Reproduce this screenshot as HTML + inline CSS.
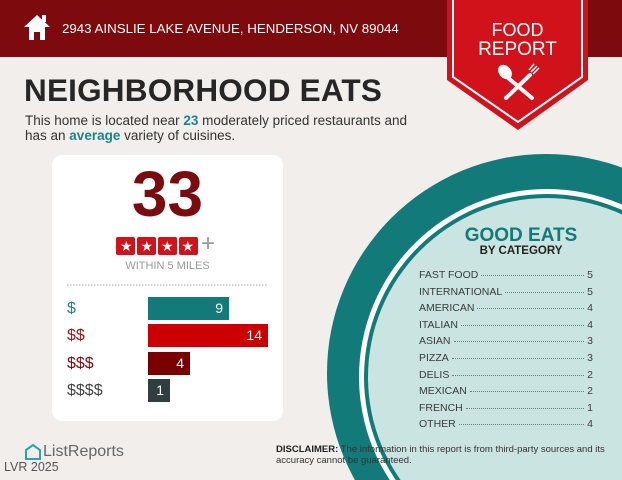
<!DOCTYPE html>
<html><head><meta charset="utf-8"><style>
*{margin:0;padding:0;box-sizing:border-box}
html,body{width:622px;height:480px;overflow:hidden}
body{background:#f1eeeb;font-family:"Liberation Sans",sans-serif;position:relative}
.a{position:absolute;white-space:nowrap}
.row{position:absolute;left:419px;width:174px;font-size:10.5px;color:#3a3a3a;display:flex;align-items:baseline}
.row .d{flex:1;border-bottom:1px dotted #777;margin:0 3px;transform:translateY(-2px)}
.bar{position:absolute;left:148px;height:23px;color:#fff;font-size:14px;text-align:right;padding-right:6px;line-height:23px}
.lbl{position:absolute;left:67px;font-size:16px;line-height:23px}
</style></head><body>
<svg class="a" style="left:0;top:0" width="622" height="480">
<rect x="0" y="0" width="622" height="57" fill="#7d0a0c"/>
<circle cx="546" cy="373" r="219" fill="#137a7a"/>
<circle cx="547" cy="377" r="188" fill="#ffffff"/>
<circle cx="547" cy="377" r="183" fill="#137a7a"/>
<circle cx="547" cy="377" r="179" fill="#c9e4e1"/>
<polygon points="447,0 588,0 588,80 518,130 447,80" fill="#d2121b"/>
<polyline points="453,0 453,77 518,122 582,77 582,0" fill="none" stroke="#fff" stroke-width="2"/>
<g stroke="#fff" stroke-width="4" stroke-linecap="round">
<line x1="507" y1="77" x2="532" y2="98"/><line x1="530" y1="75" x2="506" y2="98"/>
</g>
<ellipse cx="505" cy="72" rx="6" ry="8" fill="#fff" transform="rotate(-40 505 72)"/>
<g stroke="#fff" stroke-width="1.5"><line x1="529" y1="70" x2="534" y2="64"/><line x1="531" y1="72" x2="537" y2="66"/><line x1="533" y1="74" x2="539" y2="68"/></g>
<path d="M24 27 L37 15 L50 27 L45 27 L45 40 L40 40 L40 32 L34 32 L34 40 L29 40 L29 27Z" fill="#fff"/>
<rect x="42" y="15" width="4" height="7" fill="#fff"/>
<rect x="52" y="155" width="231" height="266" rx="10" fill="#fff"/>
<line x1="67" y1="285" x2="268" y2="285" stroke="#aaa" stroke-dasharray="1.5,1.5"/>
<g fill="#d2121b"><rect x="116" y="237" width="19" height="18" rx="2"/><rect x="137" y="237" width="19" height="18" rx="2"/><rect x="158" y="237" width="19" height="18" rx="2"/><rect x="179" y="237" width="19" height="18" rx="2"/></g>
<path d="M26 450 l7 -5 l7 5 v9 h-14z" fill="none" stroke="#2aa6a6" stroke-width="2"/>
</svg>
<div class="a" style="left:62px;top:21px;color:#fff;font-size:13.3px">2943 AINSLIE LAKE AVENUE, HENDERSON, NV 89044</div>
<div class="a" style="left:447px;width:141px;text-align:center;top:21px;color:#fff;font-size:18px;line-height:18.5px">FOOD<br><b style="font-weight:normal;font-size:19px">REPORT</b></div>
<div class="a" style="left:24px;top:72px;color:#262626;font-size:31.5px;font-weight:bold;letter-spacing:0.2px">NEIGHBORHOOD EATS</div>
<div class="a" style="left:25px;top:114px;color:#333;font-size:13.5px;line-height:14.5px">This home is located near <b style="color:#1a8585">23</b> moderately priced restaurants and<br>has an <b style="color:#1a8585">average</b> variety of cuisines.</div>
<div class="a" style="left:52px;width:231px;text-align:center;top:162px;color:#7a0b0e;font-size:64px;font-weight:bold;line-height:64px">33</div>
<div class="a" style="left:116px;top:236px;width:82px;display:flex;justify-content:space-around;color:#fff;font-size:14px;line-height:20px"><span>★</span><span>★</span><span>★</span><span>★</span></div>
<div class="a" style="left:201px;top:230px;color:#999;font-size:24px">+</div>
<div class="a" style="left:52px;width:231px;text-align:center;top:260px;color:#999;font-size:11px">WITHIN 5 MILES</div>
<div class="lbl" style="top:297px;color:#1a8585">$</div>
<div class="lbl" style="top:324px;color:#a0141a">$$</div>
<div class="lbl" style="top:352px;color:#7a0b0e">$$$</div>
<div class="lbl" style="top:379px;color:#444">$$$$</div>
<div class="bar" style="top:297px;width:81px;background:#137a7a">9</div>
<div class="bar" style="top:324px;width:120px;background:#cc0000">14</div>
<div class="bar" style="top:352px;width:42px;background:#7a0000">4</div>
<div class="bar" style="top:379px;width:22px;background:#2f3f40">1</div>
<div class="a" style="left:431px;width:180px;text-align:center;top:225px;color:#137a7a;font-size:19px;font-weight:bold">GOOD EATS</div>
<div class="a" style="left:431px;width:180px;text-align:center;top:245px;color:#222;font-size:11.5px;font-weight:bold">BY CATEGORY</div>
<div class="row" style="top:269px"><span>FAST FOOD</span><span class="d"></span><span>5</span></div>
<div class="row" style="top:286px"><span>INTERNATIONAL</span><span class="d"></span><span>5</span></div>
<div class="row" style="top:302px"><span>AMERICAN</span><span class="d"></span><span>4</span></div>
<div class="row" style="top:319px"><span>ITALIAN</span><span class="d"></span><span>4</span></div>
<div class="row" style="top:335px"><span>ASIAN</span><span class="d"></span><span>3</span></div>
<div class="row" style="top:352px"><span>PIZZA</span><span class="d"></span><span>3</span></div>
<div class="row" style="top:369px"><span>DELIS</span><span class="d"></span><span>2</span></div>
<div class="row" style="top:385px"><span>MEXICAN</span><span class="d"></span><span>2</span></div>
<div class="row" style="top:402px"><span>FRENCH</span><span class="d"></span><span>1</span></div>
<div class="row" style="top:418px"><span>OTHER</span><span class="d"></span><span>4</span></div>
<div class="a" style="left:276px;top:444px;color:#333;font-size:9.5px;line-height:11px"><b style="color:#222">DISCLAIMER:</b> The information in this report is from third-party sources and its<br>accuracy cannot be guaranteed.</div>
<div class="a" style="left:43px;top:443px;color:#666;font-size:16px">ListReports</div>
<div class="a" style="left:4px;top:460px;color:#555;font-size:12.5px">LVR 2025</div>
</body></html>
